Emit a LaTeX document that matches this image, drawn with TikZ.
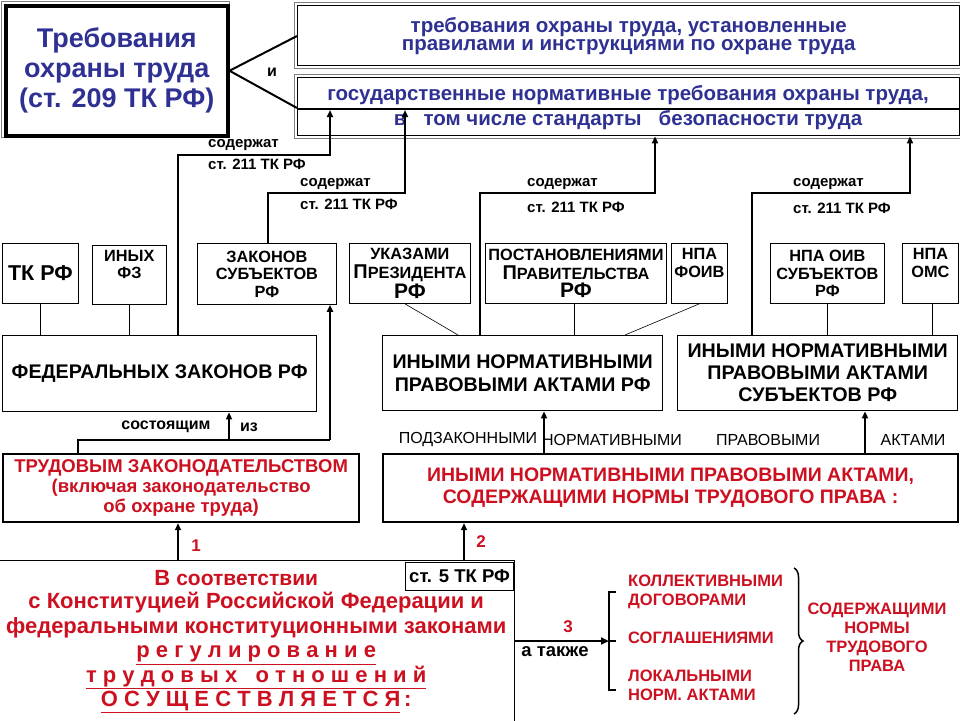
\documentclass[tikz,border=0pt]{standalone}
\usepackage{fontspec}
\setmainfont{Liberation Sans}
\newfontfamily\narrow[FakeStretch=0.85]{Liberation Sans}
\usetikzlibrary{arrows.meta,decorations.pathreplacing}
\definecolor{tblue}{HTML}{2E3192}
\definecolor{tred}{HTML}{CC1020}
\tikzset{
  bx/.style={draw, line width=0.8pt, anchor=north west, inner sep=0pt, align=center, font=\bfseries\fontsize{16.3}{17.5}\selectfont},
  lbl/.style={font=\bfseries\fontsize{15}{12}\selectfont, anchor=west, inner sep=0pt},
  arr/.style={line width=2pt, -{Triangle[length=7pt,width=6pt]}},
  ln/.style={line width=0.6pt},
  thk/.style={line width=2pt}
}
\begin{document}
\begin{tikzpicture}[x=1pt,y=-1pt]
\useasboundingbox (0,0) rectangle (960,720);
% top-left
\draw[line width=0.6pt,gray] (1,1) rectangle (229,137);
\node[bx, line width=3.5pt, minimum width=222pt, minimum height=130pt, text=tblue, font=\bfseries\fontsize{27}{30}\selectfont] (req) at (4,4) {Требования\\охраны труда\\(ст. 209 ТК РФ)};
% right top boxes
\draw[line width=0.6pt,gray] (294,2) rectangle (960,68);
\node[bx, line width=1.4pt, minimum width=662pt, minimum height=60pt, text=tblue, font=\bfseries\fontsize{20.5}{18}\selectfont] (A) at (297,5) {требования  охраны  труда,  установленные\\правилами и инструкциями  по охране  труда};
\draw[line width=0.6pt,gray] (294,74) rectangle (960,138);
\node[bx, line width=1.4pt, minimum width=662pt, minimum height=58pt] (B) at (297,77) {};
\draw[line width=1.2pt] (297,109) -- (959,109);
\node[text=tblue, font=\bfseries\fontsize{20.5}{18}\selectfont, inner sep=0pt] (B1) at (628,95) {государственные нормативные требования охраны труда,};
\node[text=tblue, font=\bfseries\fontsize{20.5}{18}\selectfont, inner sep=0pt] (B2) at (628,120) {в \ \ том числе стандарты \ \ безопасности труда};
\draw[thk] (req.east) -- (A.south west |- 0,36);
\draw[thk] (req.east) -- (B.west |- 0,108);
\node[lbl, anchor=center, font=\bfseries\fontsize{16}{15}\selectfont] (i) at (272,72) {и};
% small boxes
\node[bx, minimum width=76pt, minimum height=60pt, font=\bfseries\fontsize{21.5}{19}\selectfont] (tk) at (2,243) {ТК РФ};
\node[bx, minimum width=74pt, minimum height=59pt] (ifz) at (92,245) {ИНЫХ\\ФЗ\\[4pt]};
\node[bx, minimum width=139pt, minimum height=61pt] (zs) at (197,243) {ЗАКОНОВ\\СУБЪЕКТОВ\\РФ};
\node[bx, minimum width=121pt, minimum height=60pt] (uk) at (349,243) {УКАЗАМИ\\[1pt]\fontsize{20}{18}\selectfont П\fontsize{16.3}{18}\selectfont РЕЗИДЕНТА\\[1pt]\fontsize{21}{18}\selectfont РФ};
\node[bx, minimum width=181pt, minimum height=60pt] (pp) at (485,243) {ПОСТАНОВЛЕНИЯМИ\\[1pt]\fontsize{20}{18}\selectfont П\fontsize{16.3}{18}\selectfont РАВИТЕЛЬСТВА\\[1pt]\fontsize{21}{18}\selectfont РФ};
\node[bx, minimum width=56pt, minimum height=60pt] (foiv) at (671,243) {НПА\\ФОИВ\\[4pt]};
\node[bx, minimum width=114pt, minimum height=60pt] (oiv) at (770,243) {НПА ОИВ\\СУБЪЕКТОВ\\РФ};
\node[bx, minimum width=56pt, minimum height=60pt] (oms) at (902,243) {НПА\\ОМС\\[4pt]};
% middle boxes
\node[bx, line width=1.4pt, minimum width=314pt, minimum height=76pt, font=\bfseries\fontsize{19.7}{19}\selectfont] (fed) at (2,335) {ФЕДЕРАЛЬНЫХ  ЗАКОНОВ РФ};
\node[bx, line width=1.4pt, minimum width=280pt, minimum height=75pt, font=\bfseries\fontsize{19.7}{23}\selectfont] (inpa) at (382,335) {ИНЫМИ  НОРМАТИВНЫМИ\\ПРАВОВЫМИ АКТАМИ РФ};
\node[bx, line width=1.4pt, minimum width=280pt, minimum height=75pt, font=\bfseries\fontsize{19.7}{22}\selectfont] (snpa) at (677,335) {ИНЫМИ НОРМАТИВНЫМИ\\ПРАВОВЫМИ  АКТАМИ\\СУБЪЕКТОВ  РФ};
% thin links
\draw[ln] (tk.south) -- (tk.south |- fed.north);
\draw[ln] (ifz.south) -- (ifz.south |- fed.north);
\draw[ln] ([xshift=-5pt]uk.south) -- ([xshift=76pt]inpa.north west);
\draw[ln] ([xshift=-2pt]pp.south) -- ([xshift=-2pt]pp.south |- inpa.north);
\draw[ln] (foiv.south) -- ([xshift=243pt]inpa.north west);
\draw[ln] (oiv.south) -- (oiv.south |- snpa.north);
\draw[ln] ([xshift=2pt]oms.south) -- ([xshift=2pt]oms.south |- snpa.north);
% "содержат" arrows
\draw[arr] ([xshift=176pt]fed.north west) |- (330,155) -- (330,110);
\node[lbl] (s1) at (208,145) {содержат};
\node[lbl] (t1) at (208,164) {ст. 211  ТК РФ};
\draw[arr] ([xshift=71pt]zs.north west) |- (405,193) -- (405,110);
\node[lbl] (s2) at (300,184) {содержат};
\node[lbl] (t2) at (300,204) {ст. 211  ТК РФ};
\draw[arr] ([xshift=98pt]inpa.north west) |- (655,193) -- (B.south -| 655,0);
\node[lbl] (s3) at (527,184) {содержат};
\node[lbl] (t3) at (527,207) {ст. 211  ТК РФ};
\draw[arr] ([xshift=75pt]snpa.north west) |- (910,193) -- (B.south -| 910,0);
\node[lbl] (s4) at (793,184) {содержат};
\node[lbl] (t4) at (793,208) {ст. 211  ТК РФ};
% red boxes
\node[bx, line width=2.2pt, minimum width=356pt, minimum height=68pt, text=tred, font=\bfseries\fontsize{18.5}{20}\selectfont] (trud) at (2,453) {ТРУДОВЫМ ЗАКОНОДАТЕЛЬСТВОМ\\(включая законодательство\\об охране труда)};
\node[bx, line width=2.2pt, minimum width=575pt, minimum height=68pt, text=tred, font=\bfseries\fontsize{19.5}{22}\selectfont] (ired) at (382,453) {ИНЫМИ  НОРМАТИВНЫМИ  ПРАВОВЫМИ  АКТАМИ,\\СОДЕРЖАЩИМИ  НОРМЫ  ТРУДОВОГО  ПРАВА :};
% consisting of
\draw[thk] ([xshift=76pt]trud.north west) |- (330,440);
\draw[arr] (330,440) -- (zs.south -| 330,0);
\draw[arr] (229,440) -- (fed.south -| 229,0);
\node[lbl, anchor=center, font=\bfseries\fontsize{16}{12}\selectfont] (c1) at (166,427) {состоящим};
\node[lbl, anchor=center, font=\bfseries\fontsize{16}{12}\selectfont] (c2) at (249,427) {из};
\foreach \t/\x in {ПОДЗАКОННЫМИ/468,НОРМАТИВНЫМИ/612,ПРАВОВЫМИ/768,АКТАМИ/913}
  \node[font=\fontsize{16}{12}\selectfont, inner sep=0pt] at (\x,440) {\t};
\draw[arr] ([xshift=162pt]ired.north west) -- (inpa.south -| 544,0);
\draw[arr] ([xshift=483pt]ired.north west) -- (snpa.south -| 865,0);
% bottom box
\node[bx, line width=1.4pt, minimum width=517pt, minimum height=162pt, text=tred, font=\bfseries\fontsize{22}{24.5}\selectfont] (bot) at (-3,560) {\hspace*{20pt}В \fontsize{21}{24.5}\selectfont соответствии\hspace*{60pt}\\[-1pt]с Конституцией Российской Федерации и\\федеральными конституционными законами\\\underline{р е г у л и р о в а н и е}\\\underline{т р у д о в ы х \ \ о т н о ш е н и й}\\\underline{О С У Щ Е С Т В Л Я Е Т С Я}\,:};
\node[bx, line width=1.2pt, minimum width=108pt, minimum height=28pt, font=\bfseries\fontsize{18.5}{16}\selectfont] (st5) at (405,562) {ст. 5 ТК РФ};
\draw[arr] ([xshift=181pt]bot.north west) -- (trud.south -| 178,0);
\draw[arr] ([xshift=467pt]bot.north west) -- (ired.south -| 464,0);
\node[text=tred, font=\bfseries\fontsize{17}{14}\selectfont] (n1) at (196,546) {1};
\node[text=tred, font=\bfseries\fontsize{17}{14}\selectfont] (n2) at (481,542) {2};
% 3 arrow
\coordinate (br) at (609,641);
\draw[line width=2.5pt, -{Triangle[length=8pt,width=7pt]}] (bot.east |- br) -- (br);
\node[text=tred, font=\bfseries\fontsize{17}{14}\selectfont] (n3) at (568,627) {3};
\node[font=\bfseries\fontsize{18.5}{16}\selectfont] (at) at (555,652) {а также};
\draw[line width=2.2pt] (616,592) -- (609,592) -- (609,690) -- (616,690);
\draw[line width=2.2pt] (609,641) -- (616,641);
\tikzset{rl/.style={text=tred, anchor=west, align=left, inner sep=0pt, font=\bfseries\fontsize{16.5}{19}\selectfont}}
\node[rl] (k1) at (628,592) {КОЛЛЕКТИВНЫМИ\\ДОГОВОРАМИ};
\node[rl] (k2) at (628,638) {СОГЛАШЕНИЯМИ};
\node[rl] (k3) at (628,685) {ЛОКАЛЬНЫМИ\\НОРМ. АКТАМИ};
\draw[line width=1.5pt, decorate, decoration={brace, amplitude=9pt}] (794,568) -- (794,714);
\node[text=tred, align=center, font=\bfseries\fontsize{16.5}{19}\selectfont] (k4) at (877,637) {СОДЕРЖАЩИМИ\\НОРМЫ\\ТРУДОВОГО\\ПРАВА};
\end{tikzpicture}
\end{document}
